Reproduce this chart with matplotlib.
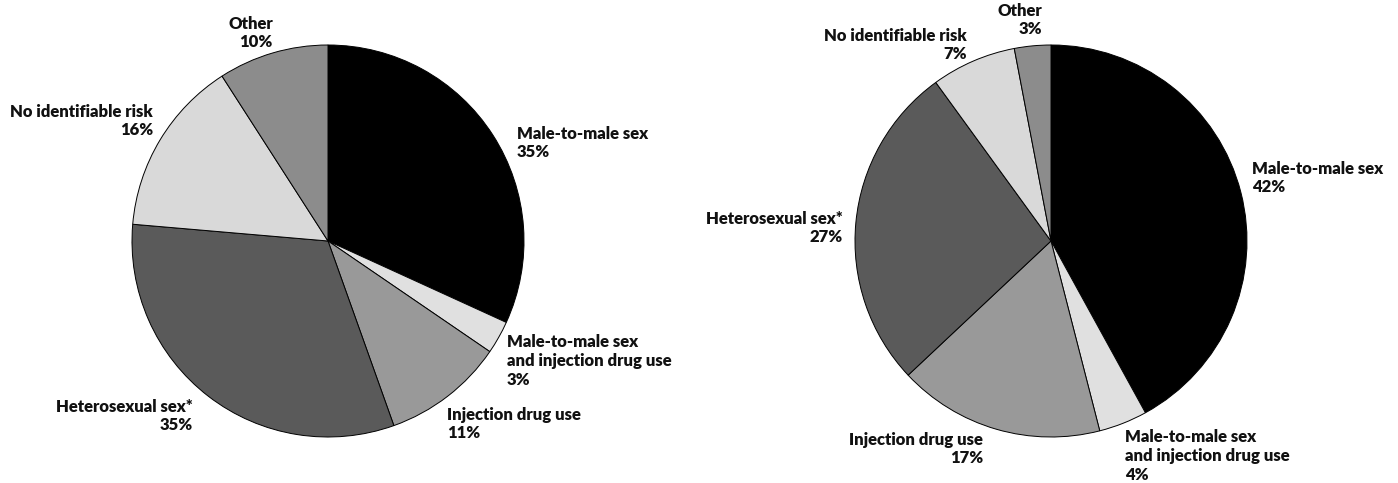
import matplotlib
matplotlib.use("Agg")
import matplotlib.pyplot as plt

# ---- data ----
categories = ["Male-to-male sex", "Male-to-male sex\nand injection drug use",
              "Injection drug use", "Heterosexual sex*",
              "No identifiable risk", "Other"]
left_values = [35, 3, 11, 35, 16, 10]
right_values = [42, 4, 17, 27, 7, 3]
left_pct = ["35%", "3%", "11%", "35%", "16%", "10%"]
right_pct = ["42%", "4%", "17%", "27%", "7%", "3%"]
colors = ["#000000", "#e0e0e0", "#999999", "#5a5a5a", "#d9d9d9", "#8c8c8c"]

W, H = 1398, 483
DPI = 100
R = 196  # pie radius in pixels

plt.rcParams['font.family'] = ['Lato', 'DejaVu Sans']
fig = plt.figure(figsize=(W / DPI, H / DPI), dpi=DPI)

# label layouts: (x_px, y_center_px, ha)
left_layout = [(517, 143, 'left'), (507, 361, 'left'), (447, 424, 'left'),
               (193, 416, 'right'), (153, 121, 'right'), (273, 33, 'right')]
right_layout = [(1252, 178, 'left'), (1125, 456, 'left'), (983, 449, 'right'),
                (843, 228, 'right'), (967, 45, 'right'), (1042, 20, 'right')]


def draw(cx, cy, values, pcts, layout):
    ax = fig.add_axes([(cx - R) / W, (H - cy - R) / H, 2 * R / W, 2 * R / H])
    ax.pie(values, colors=colors, startangle=90, counterclock=False,
           radius=1.0, wedgeprops=dict(edgecolor='black', linewidth=0.7))
    ax.set_xlim(-1, 1)
    ax.set_ylim(-1, 1)
    ax.set_aspect('auto')
    ax.axis('off')
    for cat, pct, (px, py, ha) in zip(categories, pcts, layout):
        x = (px - cx) / R
        y = (cy - py) / R
        ax.text(x, y, f"{cat}\n{pct}", ha=ha, va='center', multialignment=ha,
                fontsize=12, fontweight='heavy', color='#111111',
                linespacing=1.2, clip_on=False)


draw(328, 241, left_values, left_pct, left_layout)
draw(1051, 241, right_values, right_pct, right_layout)

fig.savefig("out.png", dpi=DPI)
